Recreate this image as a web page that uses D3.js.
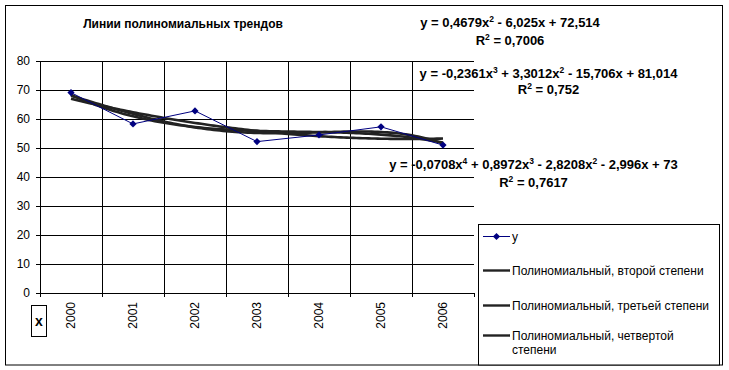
<!DOCTYPE html>
<html>
<head>
<meta charset="utf-8">
<script src="https://cdn.jsdelivr.net/npm/d3@7"></script>
<style>
  body { margin: 0; background: #fff; }
  svg { display: block; font-family: "Liberation Sans", Arial, sans-serif; }
</style>
</head>
<body>
<script>
// данные с картинки
var years = ["2000", "2001", "2002", "2003", "2004", "2005", "2006"];
var yValues = [69.1, 58.3, 62.8, 52.2, 54.5, 57.3, 51.0];
var yTicks = [0, 10, 20, 30, 40, 50, 60, 70, 80];

// коэффициенты трендов (от старшей степени к свободному члену)
var poly2 = [0.4679, -6.025, 72.514];
var poly3 = [-0.2361, 3.3012, -15.706, 81.014];
var poly4 = [-0.0708, 0.8972, -2.8208, -2.996, 73];

var legendNames = ["y", "Полиномиальный, второй степени", "Полиномиальный, третьей степени", "Полиномиальный, четвертой|степени"];

var W = 729, H = 370;
var plotL = 40, plotR = 474, plotT = 61, plotB = 293;

var svg = d3.select("body").append("svg")
  .attr("width", W).attr("height", H);

// рамка всей диаграммы
svg.append("rect")
  .attr("x", 5.5).attr("y", 5.5).attr("width", 717).attr("height", 359.5)
  .attr("fill", "#fff").attr("stroke", "#000");

var x = d3.scaleBand().domain(years).range([plotL, plotR]);
var xNum = d3.scaleLinear().domain([0.5, 7.5]).range([plotL, plotR]);
var y = d3.scaleLinear().domain([0, 80]).range([plotB, plotT]);

// горизонтальная сетка
svg.append("g")
  .attr("transform", "translate(" + plotL + ",0)")
  .call(d3.axisLeft(y).tickValues(yTicks).tickSize(-(plotR - plotL)).tickFormat(""))
  .call(function(g) { g.select(".domain").remove(); })
  .selectAll("line").attr("stroke", "#000");

// вертикальная сетка по границам категорий
var bounds = d3.range(1.5, 7.5, 1);
svg.append("g").selectAll("line").data(bounds).enter().append("line")
  .attr("x1", function(d) { return Math.round(xNum(d)) + 0.5; })
  .attr("x2", function(d) { return Math.round(xNum(d)) + 0.5; })
  .attr("y1", plotT).attr("y2", plotB)
  .attr("stroke", "#000");

// ось Y
var yAxis = svg.append("g")
  .attr("transform", "translate(" + plotL + ",0)")
  .call(d3.axisLeft(y).tickValues(yTicks).tickSize(4).tickSizeOuter(0).tickPadding(6));
yAxis.selectAll("text").attr("font-size", 12).attr("font-family", "Liberation Sans, Arial, sans-serif").attr("fill", "#000");
yAxis.selectAll("line, path").attr("stroke", "#000");

// ось X (штрихи на границах)
var xAxis = svg.append("g")
  .attr("transform", "translate(0," + plotB + ")")
  .call(d3.axisBottom(xNum).tickValues(d3.range(0.5, 8, 1)).tickSize(4).tickSizeOuter(0).tickFormat(""));
xAxis.selectAll("line, path").attr("stroke", "#000");

// подписи лет, повернутые
svg.append("g").selectAll("text").data(years).enter().append("text")
  .attr("transform", function(d) { return "translate(" + (x(d) + x.bandwidth() / 2 + 4) + "," + (plotB + 9) + ") rotate(-90)"; })
  .attr("text-anchor", "end")
  .attr("font-size", 12)
  .text(function(d) { return d; });

// ярлык "x" в рамке
svg.append("rect").attr("x", 31.5).attr("y", 305.5).attr("width", 15).attr("height", 31)
  .attr("fill", "#fff").attr("stroke", "#000");
svg.append("text").attr("x", 39).attr("y", 326).attr("text-anchor", "middle")
  .attr("font-size", 14).attr("font-weight", "bold").text("x");

// линии трендов
function polyVal(c, t) {
  return c.reduce(function(acc, k) { return acc * t + k; }, 0);
}
var tSteps = d3.range(1, 7.001, 0.05);
var trendLine = d3.line()
  .x(function(d) { return xNum(d[0]); })
  .y(function(d) { return y(d[1]); });

[poly2, poly3, poly4].forEach(function(c) {
  svg.append("path")
    .datum(tSteps.map(function(t) { return [t, polyVal(c, t)]; }))
    .attr("d", trendLine)
    .attr("fill", "none")
    .attr("stroke", "#222")
    .attr("stroke-width", 2.6);
});

// ряд данных
var dataLine = d3.line()
  .x(function(d, i) { return x(years[i]) + x.bandwidth() / 2; })
  .y(function(d) { return y(d); });

svg.append("path").datum(yValues)
  .attr("d", dataLine)
  .attr("fill", "none").attr("stroke", "#000080").attr("stroke-width", 1);

var diamond = d3.symbol(d3.symbolSquare, 26);
svg.append("g").selectAll("path").data(yValues).enter().append("path")
  .attr("d", diamond)
  .attr("transform", function(d, i) { return "translate(" + (x(years[i]) + x.bandwidth() / 2) + "," + y(d) + ") rotate(45)"; })
  .attr("fill", "#000080");

// заголовок
svg.append("text").attr("x", 183).attr("y", 28).attr("text-anchor", "middle")
  .attr("font-size", 12).attr("font-weight", "bold")
  .text("Линии полиномиальных трендов");

// уравнения трендов
var eqs = [
  { cx: 510, y1: 26.5, y2: 45, parts: [["y = 0,4679x", ""], ["2", "sup"], [" - 6,025x + 72,514", ""]], r2: "0,7006" },
  { cx: 548.5, y1: 77.5, y2: 93.5, parts: [["y = -0,2361x", ""], ["3", "sup"], [" + 3,3012x", ""], ["2", "sup"], [" - 15,706x + 81,014", ""]], r2: "0,752" },
  { cx: 533.5, y1: 168.5, y2: 186.7, parts: [["y = -0,0708x", ""], ["4", "sup"], [" + 0,8972x", ""], ["3", "sup"], [" - 2,8208x", ""], ["2", "sup"], [" - 2,996x + 73", ""]], r2: "0,7617" }
];

eqs.forEach(function(e) {
  var t1 = svg.append("text").attr("x", e.cx).attr("y", e.y1)
    .attr("text-anchor", "middle").attr("font-size", 13).attr("font-weight", "bold");
  var prevSup = false;
  e.parts.forEach(function(p) {
    var s = t1.append("tspan").text(p[0]);
    if (p[1] === "sup") { s.attr("font-size", 8.5).attr("dy", -5); prevSup = true; }
    else if (prevSup) { s.attr("dy", 5); prevSup = false; }
  });
  var t2 = svg.append("text").attr("x", e.cx).attr("y", e.y2)
    .attr("text-anchor", "middle").attr("font-size", 13).attr("font-weight", "bold");
  t2.append("tspan").text("R");
  t2.append("tspan").attr("font-size", 8.5).attr("dy", -5).text("2");
  t2.append("tspan").attr("dy", 5).text(" = " + e.r2);
});

// легенда
svg.append("rect").attr("x", 478.5).attr("y", 224.5).attr("width", 241).attr("height", 140.5)
  .attr("fill", "#fff").attr("stroke", "#000");

var legY = [236.5, 270.5, 305.5, 335.5];
var leg = svg.append("g").selectAll("g").data(legendNames).enter().append("g")
  .attr("transform", function(d, i) { return "translate(0," + legY[i] + ")"; });

leg.append("line").attr("x1", 483).attr("x2", 510).attr("y1", 0).attr("y2", 0)
  .attr("stroke", function(d, i) { return i === 0 ? "#000080" : "#222"; })
  .attr("stroke-width", function(d, i) { return i === 0 ? 1 : 2.4; });

leg.filter(function(d, i) { return i === 0; }).append("path")
  .attr("d", diamond).attr("transform", "translate(496.5,0) rotate(45)").attr("fill", "#000080");

leg.append("text").attr("x", 512).attr("y", 4.5).attr("font-size", 12)
  .each(function(d) {
    var lines = d.split("|");
    var t = d3.select(this);
    lines.forEach(function(l, k) {
      t.append("tspan").attr("x", 512).attr("dy", k === 0 ? 0 : 14).text(l);
    });
  });
</script>
</body>
</html>
